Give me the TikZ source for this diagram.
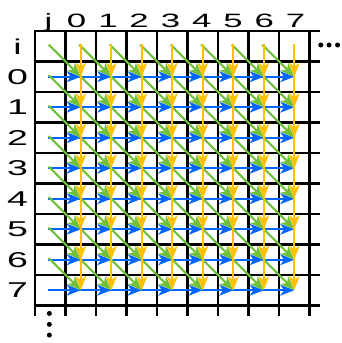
\documentclass[tikz,border=0pt]{standalone}
\usepackage{fontspec}
\setmainfont{Liberation Sans}
\usepackage{xcolor}
\usetikzlibrary{arrows.meta}
\definecolor{arrblue}{HTML}{0066FF}
\definecolor{arrgreen}{HTML}{70C03C}
\definecolor{arryellow}{HTML}{FFC000}

\begin{document}
\begin{tikzpicture}[
	gridline/.style={draw=black, line width=2.2pt, line cap=rect},
	arr/.style={line width=2pt, shorten <=-2pt, -{Stealth[length=13pt, width=10pt, inset=3.5pt]}},
	barr/.style={arr, draw=arrblue, fill=arrblue},
	garr/.style={arr, draw=arrgreen, fill=arrgreen},
	yarr/.style={arr, draw=arryellow, fill=arryellow},
	collab/.style={font=\fontsize{18}{20}\selectfont, xscale=1.8, anchor=base, inner sep=0pt},
	rowlab/.style={font=\fontsize{20}{22}\selectfont, xscale=1.75, anchor=center, inner sep=0pt}
	]
	\useasboundingbox (-1.148,1.016) rectangle (10.033,-10.23);
	\def\ext{9.31}
	\foreach \k in {0,...,9}{
		\draw[gridline] (\k,0) -- (\k,-\ext);
		\draw[gridline] (0,-\k) -- (\ext,-\k);
	}
	\foreach \r in {-1,...,7}{
		\foreach \c in {-1,...,7}{
			\coordinate (p\r-\c) at (\c+1.5,-\r-1.5);
		}
	}
	\foreach \s/\dr/\dc in {barr/0/1, garr/1/1, yarr/1/0}{
		\foreach \r in {0,...,7}{
			\foreach \c in {0,...,7}{
				\pgfmathtruncatemacro\pr{\r-\dr}
				\pgfmathtruncatemacro\pc{\c-\dc}
				\draw[\s] (p\pr-\pc) -- (p\r-\c);
			}
		}
	}
	\foreach \x/\lab in {0.44/j, 1.36/0, 2.39/1, 3.41/2, 4.44/3, 5.47/4, 6.49/5, 7.52/6, 8.54/7}{
		\node[collab] (c\lab) at (\x,0.13) {\lab};
	}
	\foreach \y/\lab in {-0.5/i, -1.5/0, -2.5/1, -3.5/2, -4.5/3, -5.5/4, -6.5/5, -7.5/6, -8.5/7}{
		\node[rowlab] (r\lab) at (-0.57,\y) {\lab};
	}
	\foreach \x in {9.37, 9.64, 9.92}{
		\fill (\x,-0.46) circle (0.082);
	}
	\foreach \y in {-9.26, -9.62, -9.97}{
		\fill (0.47,\y) circle (0.082);
	}
\end{tikzpicture}
\end{document}
